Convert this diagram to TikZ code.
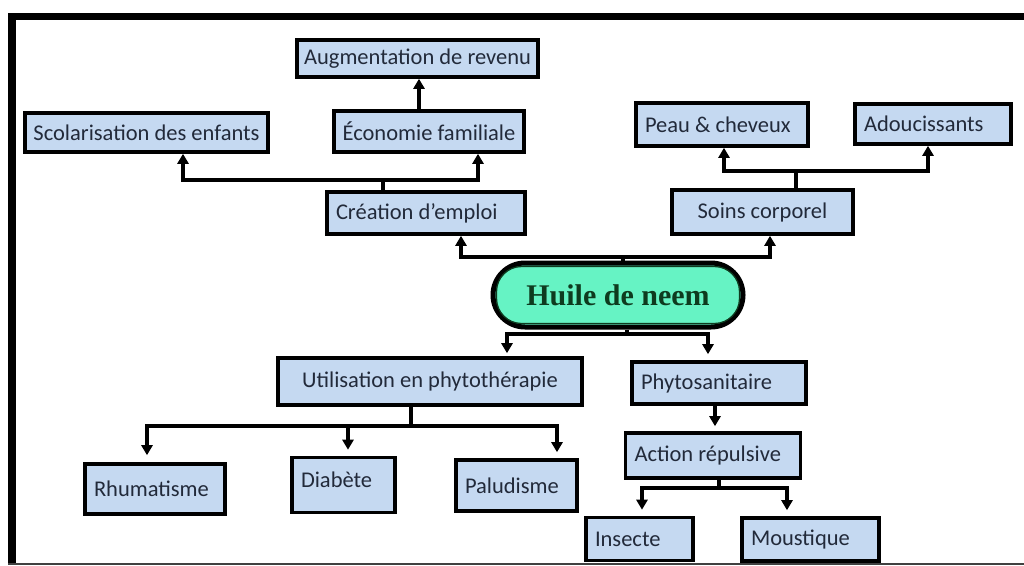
\documentclass[tikz,border=0pt]{standalone}
\usepackage{fontspec}
\setmainfont{Carlito}
\newfontfamily\huilefont{Liberation Serif}
\usetikzlibrary{arrows.meta,calc}
\definecolor{boxblue}{RGB}{197,217,241}
\definecolor{boxtext}{RGB}{34,42,58}
\definecolor{mint}{RGB}{102,243,196}
\definecolor{darkgreen}{RGB}{14,59,31}
\tikzset{
  box/.style={draw=black, line width=3.6pt, fill=boxblue, text=boxtext, inner sep=0pt,
    font=\fontsize{22.5}{26}\selectfont},
  lbox/.style={box, align=flush left, inner xsep=9pt},
  ln/.style={line width=3.4pt, draw=black},
  arr/.style={line width=3.4pt, draw=black, -{Triangle[length=10pt,width=11pt]}},
}
\begin{document}
\begin{tikzpicture}[x=1pt,y=-1pt]
\useasboundingbox (0,0) rectangle (1024,565);
% frame
\fill[black] (8,13) rectangle (1024,20);
\fill[black] (8,13) rectangle (16,563);
\draw[line width=2pt, draw=black!75] (8,563.5) -- (1024,563.5);

% nodes
\node[box, minimum width=241pt, minimum height=37pt] (aug) at (417.5,58.5) {Augmentation de revenu};
\node[box, minimum width=243pt, minimum height=39pt] (sco) at (146.5,132.5) {Scolarisation des enfants};
\node[box, minimum width=190pt, minimum height=41pt] (eco) at (429,131.5) {Économie familiale};
\node[lbox, text width=180pt, minimum height=42pt] (cre) at (426,213) {Création d’emploi};
\node[lbox, text width=154pt, minimum height=43pt] (peau) at (722,124.5) {Peau \& cheveux};
\node[lbox, text width=138pt, minimum height=40pt] (adou) at (933,124) {Adoucissants};
\node[box, minimum width=181pt, minimum height=44pt] (soin) at (762.5,212) {Soins corporel};
\node[draw=black, line width=5pt, fill=mint, rounded corners=32pt, minimum width=250pt, minimum height=64pt,
      text=darkgreen, font=\huilefont\bfseries\fontsize{30}{33}\selectfont] (huile) at (618,295) {Huile de neem};
\draw[rounded corners=25pt, line width=1.3pt, draw=darkgreen] ($(huile.south west)+(6,-6)$) rectangle ($(huile.north east)+(-6,6)$);
\node[box, minimum width=304pt, minimum height=47pt] (util) at (430,381.5) {Utilisation en phytothérapie};
\node[lbox, text width=156pt, minimum height=42pt] (phyto) at (719,383) {Phytosanitaire};
\node[lbox, text width=157pt, minimum height=45pt] (act) at (713,455.5) {Action répulsive};
\node[lbox, text width=89pt, minimum height=43pt] (ins) at (639.5,539) {Insecte};
\node[lbox, text width=119pt, minimum height=43pt] (mou) at (810.5,539.5) {Moustique};
\node[lbox, text width=122pt, minimum height=50pt] (rhu) at (155,489) {Rhumatisme};
\node[lbox, text width=85pt, minimum height=55pt, text depth=10pt] (dia) at (343.5,485) {Diabète};
\node[lbox, text width=103pt, minimum height=51pt] (pal) at (516.5,485.5) {Paludisme};

% junction coordinates
\coordinate (jA) at (383,180);
\coordinate (xA1) at (183,0);
\coordinate (xA2) at (478,0);
\coordinate (xE) at (419,0);
\coordinate (jB) at (623,257);
\coordinate (xB1) at (461,0);
\coordinate (xB2) at (770,0);
\coordinate (jC) at (796,171);
\coordinate (xC1) at (724,0);
\coordinate (xC2) at (928,0);
\coordinate (jD) at (627,334);
\coordinate (xD1) at (507,0);
\coordinate (xD2) at (708,0);
\coordinate (jF) at (411,426);
\coordinate (xF1) at (147,0);
\coordinate (xF2) at (348,0);
\coordinate (xF3) at (557,0);
\coordinate (xP) at (715,0);
\coordinate (jG) at (719,488);
\coordinate (xG1) at (642,0);
\coordinate (xG2) at (787,0);

% top left
\draw[ln] (cre.north -| jA) -- (jA);
\draw[arr] (jA) -| (sco.south -| xA1);
\draw[arr] (jA) -| (eco.south -| xA2);
\draw[arr] (eco.north -| xE) -- (aug.south -| xE);
% huile up
\draw[ln] (huile.north -| jB) -- (jB);
\draw[arr] (jB) -| (cre.south -| xB1);
\draw[arr] (jB) -| (soin.south -| xB2);
% soins up
\draw[ln] (soin.north -| jC) -- (jC);
\draw[arr] (jC) -| (peau.south -| xC1);
\draw[arr] (jC) -| (adou.south -| xC2);
% huile down
\draw[ln] (huile.south -| jD) -- (jD);
\draw[arr, shorten >=3pt] (jD) -| (util.north -| xD1);
\draw[arr, shorten >=6pt] (jD) -| (phyto.north -| xD2);
% util down
\draw[ln] (util.south -| jF) -- (jF);
\draw[arr, shorten >=7pt] (jF) -| (rhu.north -| xF1);
\draw[arr, shorten >=6pt] (jF) -| (dia.north -| xF2);
\draw[arr, shorten >=6pt] (jF) -| (pal.north -| xF3);
% phyto down
\draw[arr, shorten >=5pt] (phyto.south -| xP) -- (act.north -| xP);
\draw[ln] (act.south -| jG) -- (jG);
\draw[arr, shorten >=6pt] (jG) -| (ins.north -| xG1);
\draw[arr, shorten >=6pt] (jG) -| (mou.north -| xG2);
\end{tikzpicture}
\end{document}
